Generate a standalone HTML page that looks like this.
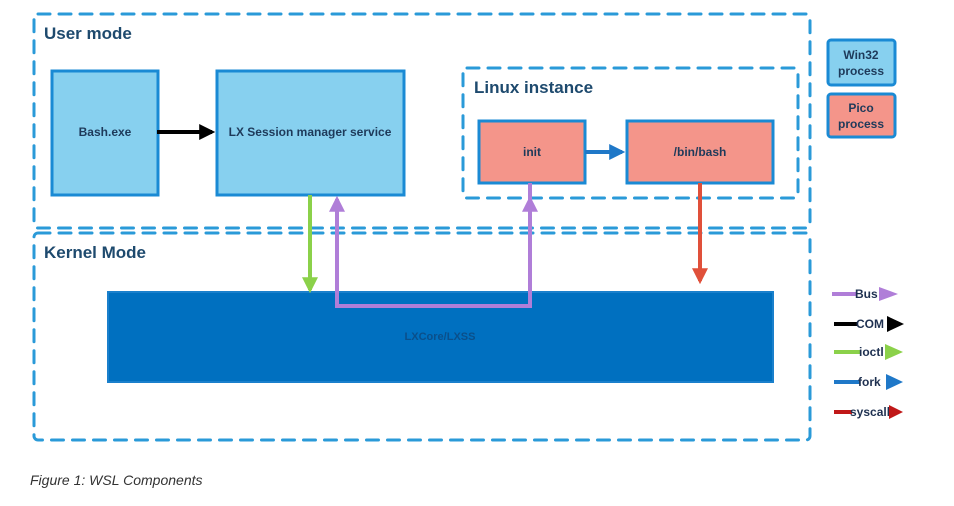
<!DOCTYPE html>
<html><head><style>
body{margin:0;background:#fff;width:954px;height:501px;overflow:hidden}
svg text{font-family:"Liberation Sans",sans-serif}
.b{font-weight:bold}
</style></head><body>
<svg width="954" height="501" viewBox="0 0 954 501" xmlns="http://www.w3.org/2000/svg">
<defs>
<marker id="a" viewBox="0 0 10 10" refX="8" refY="5" markerWidth="4" markerHeight="4" orient="auto"><path d="M0 0L10 5L0 10z" fill="context-stroke"/></marker>
</defs>
<g fill="none" stroke="#2a9ad8" stroke-width="3" stroke-dasharray="12 9" stroke-linecap="round">
<rect x="34" y="14" width="776" height="214" rx="4"/>
<rect x="34" y="233" width="776" height="207" rx="4"/>
<rect x="463" y="68" width="335" height="130" rx="4"/>
</g>
<text class="b" x="44" y="39" font-size="17" fill="#1e4a6e">User mode</text>
<text class="b" x="44" y="258" font-size="17" fill="#1e4a6e">Kernel Mode</text>
<text class="b" x="474" y="93" font-size="17" fill="#1e4a6e">Linux instance</text>
<g stroke="#1a8ad4" stroke-width="3">
<rect x="52" y="71" width="106" height="124" fill="#87d0ef"/>
<rect x="217" y="71" width="187" height="124" fill="#87d0ef"/>
<rect x="479" y="121" width="106" height="62" fill="#f4958a"/>
<rect x="627" y="121" width="146" height="62" fill="#f4958a"/>
<rect x="828" y="40" width="67" height="45" rx="3" fill="#87d0ef"/>
<rect x="828" y="94" width="67" height="43" rx="3" fill="#f4958a"/>
</g>
<rect x="108" y="292" width="665" height="90" fill="#0070c0" stroke="#1a80cc" stroke-width="2"/>
<g class="b" font-size="12" fill="#1e3a5a" text-anchor="middle">
<text x="105" y="136">Bash.exe</text>
<text x="310" y="136">LX Session manager service</text>
<text x="532" y="156">init</text>
<text x="700" y="156">/bin/bash</text>
<text x="861" y="59">Win32</text>
<text x="861" y="75">process</text>
<text x="861" y="112">Pico</text>
<text x="861" y="128">process</text>
<text x="440" y="340" fill="#0a4f8a" font-size="11">LXCore/LXSS</text>
</g>
<g fill="none" stroke-width="4" marker-end="url(#a)">
<path d="M157 132H212" stroke="#000"/>
<path d="M310 195V290" stroke="#8bd14a"/>
<path d="M530 183V306H337V199" stroke="#b07ed8"/>
<path d="M530 306V199" stroke="#b07ed8"/>
<path d="M700 183V281" stroke="#e0503a"/>
<path d="M585 152H622" stroke="#1f78c8"/>
</g>
<g class="b" font-size="12" fill="#1e3050" stroke-width="4">
<path d="M832 294H856" stroke="#b07ed8"/><text x="855" y="298">Bus</text><path d="M879 287L898 294L879 301z" fill="#b07ed8"/>
<path d="M834 324H858" stroke="#000"/><text x="856" y="328">COM</text><path d="M887 316L904 324L887 332z" fill="#000"/>
<path d="M834 352H860" stroke="#8bd14a"/><text x="859" y="356">ioctl</text><path d="M885 344L903 352L885 360z" fill="#8bd14a"/>
<path d="M834 382H860" stroke="#1f78c8"/><text x="858" y="386">fork</text><path d="M886 374L903 382L886 390z" fill="#1f78c8"/>
<path d="M834 412H852" stroke="#c01818"/><text x="850" y="416">syscall</text><path d="M889 405L903 412L889 419z" fill="#c01818"/>
</g>
<text x="30" y="485" font-size="14" font-style="italic" fill="#333">Figure 1: WSL Components</text>
</svg>
</body></html>
